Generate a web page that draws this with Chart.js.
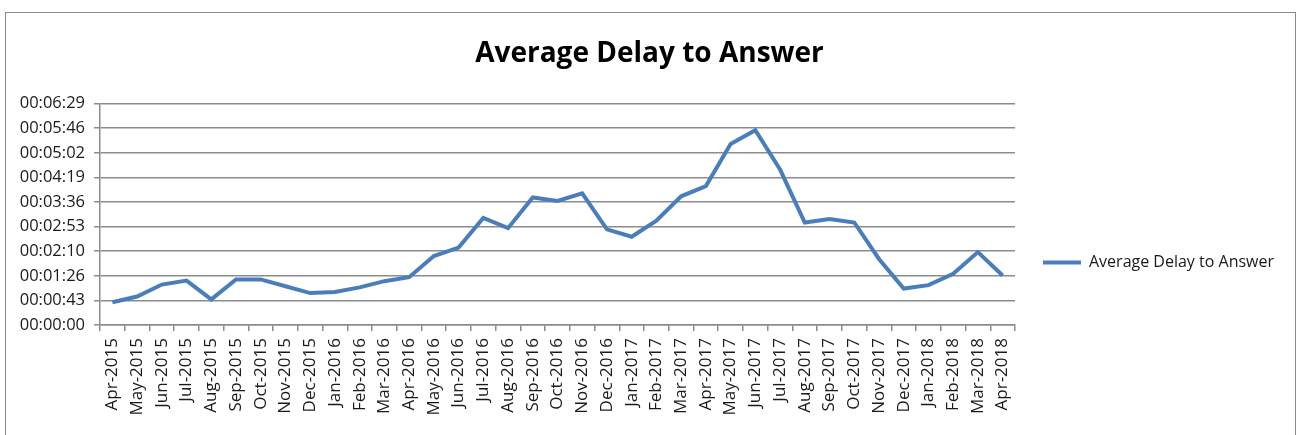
<!DOCTYPE html>
<html>
<head>
<meta charset="utf-8">
<title>Average Delay to Answer</title>
<script src="https://cdn.jsdelivr.net/npm/chart.js@4.4.0/dist/chart.umd.min.js"></script>
<style>
  html, body { margin: 0; padding: 0; background: #fff; }
  #wrap { position: relative; width: 1299px; height: 435px; overflow: hidden; }
  #frame { position: absolute; left: 5px; top: 12px; width: 1289px; height: 440px;
           border: 1px solid #8a8a8a; pointer-events: none; }
  canvas { position: absolute; left: 0; top: 0; }
</style>
</head>
<body>
<div id="wrap">
  <canvas id="delayChart" width="1299" height="435"></canvas>
  <div id="frame"></div>
</div>
<script>
// ===== data =====
const months = [
  "Apr-2015", "May-2015", "Jun-2015", "Jul-2015", "Aug-2015", "Sep-2015", "Oct-2015",
  "Nov-2015", "Dec-2015", "Jan-2016", "Feb-2016", "Mar-2016", "Apr-2016", "May-2016",
  "Jun-2016", "Jul-2016", "Aug-2016", "Sep-2016", "Oct-2016", "Nov-2016", "Dec-2016",
  "Jan-2017", "Feb-2017", "Mar-2017", "Apr-2017", "May-2017", "Jun-2017", "Jul-2017",
  "Aug-2017", "Sep-2017", "Oct-2017", "Nov-2017", "Dec-2017", "Jan-2018", "Feb-2018",
  "Mar-2018", "Apr-2018"
];

// average delay in seconds
const delaySeconds = [
  40, 50, 71, 78, 45, 80, 80, 68, 56, 58, 66, 77, 84, 121, 136, 188, 170, 224, 218,
  231, 168, 155, 183, 226, 244, 318, 342, 273, 180, 186, 180, 116, 64, 70, 90, 128, 87
];

// y axis: 0 .. 00:06:29 in steps of 43.2 s (Excel's 0.0005 day)
const yMin = 0;
const yMax = 388.8;
const yStep = 43.2;

const seriesName = "Average Delay to Answer";

// seconds -> hh:mm:ss
function toClock(sec) {
  let s = Math.round(sec);
  let h = Math.floor(s / 3600);
  let m = Math.floor((s % 3600) / 60);
  let r = s % 60;
  return [h, m, r].map(v => String(v).padStart(2, "0")).join(":");
}

const gridColor = "#8c8c8c";
const textColor = "#1a1a1a";

new Chart(document.getElementById("delayChart"), {
  type: "line",
  data: {
    labels: months,
    datasets: [{
      label: seriesName,
      data: delaySeconds,
      borderColor: "#4a7ebb",
      backgroundColor: "#4a7ebb",
      borderWidth: 4,
      pointRadius: 0,
      tension: 0,
      fill: false
    }]
  },
  options: {
    responsive: false,
    animation: false,
    // same padding both sides so the title stays centred on the canvas
    layout: { padding: { left: 15, right: 15, top: 0, bottom: 0 } },
    plugins: {
      title: {
        display: true,
        text: seriesName,
        color: "#000",
        font: { family: "Open Sans", size: 28, weight: "bold" },
        padding: { top: 37, bottom: 33 }
      },
      legend: {
        position: "right",
        maxWidth: 284,
        // empty title only pushes the entry down to where Excel puts it
        title: { display: true, text: " ", font: { size: 10 }, padding: { top: 78, bottom: 0 } },
        labels: {
          color: textColor,
          font: { family: "Open Sans", size: 16 },
          usePointStyle: true,
          pointStyle: "line",
          pointStyleWidth: 38,
          padding: 28
        }
      },
      tooltip: { enabled: false }
    },
    scales: {
      x: {
        offset: true,
        grid: {
          offset: true,
          drawOnChartArea: false,
          color: gridColor,
          lineWidth: 1.5,
          tickLength: 6
        },
        border: { color: gridColor, width: 1.5 },
        ticks: {
          color: textColor,
          font: { family: "Open Sans", size: 17 },
          minRotation: 90,
          maxRotation: 90,
          autoSkip: false,
          padding: 7
        },
        afterFit: (s) => { s.height = 110; }
      },
      y: {
        min: yMin,
        max: yMax,
        grid: { color: gridColor, lineWidth: 1.5, tickLength: 6 },
        border: { color: gridColor, width: 1.5 },
        ticks: {
          stepSize: yStep,
          color: textColor,
          font: { family: "Open Sans", size: 16.5 },
          padding: 9,
          callback: (v) => toClock(v)
        },
        afterFit: (s) => { s.width = 85; }
      }
    }
  }
});
</script>
</body>
</html>
